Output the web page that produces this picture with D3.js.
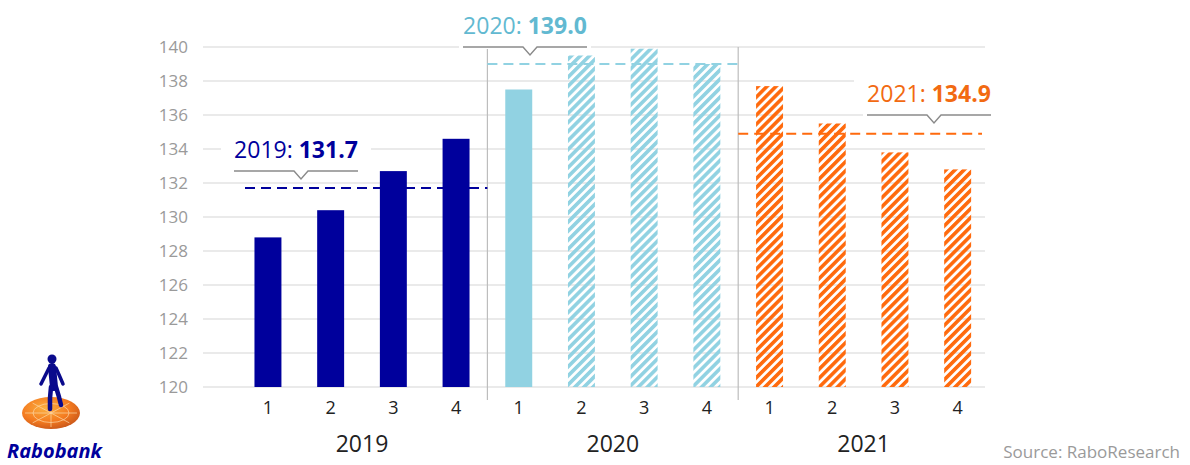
<!DOCTYPE html>
<meta charset="utf-8">
<style>
body { margin: 0; background: #fff; }
text { font-family: "Open Sans", "Noto Sans", sans-serif; }
.grid { stroke: #d6d6d6; stroke-width: 1.2px; }
.sep { stroke: #bdbdbd; stroke-width: 1.2px; }
.callout { fill: none; stroke: #8a8a8a; stroke-width: 1.4px; }
</style>
<body>
<script src="https://d3js.org/d3.v7.min.js"></script>
<script>

// data
var years = ["2019", "2020", "2021"];
var quarters = ["1", "2", "3", "4"];
var values2019 = [128.8, 130.4, 132.7, 134.6];
var values2020 = [137.5, 139.5, 139.9, 139.0];
var values2021 = [137.7, 135.5, 133.8, 132.8];
var forecast2019 = [false, false, false, false];
var forecast2020 = [false, true, true, true];
var forecast2021 = [true, true, true, true];
var averages = [131.7, 139.0, 134.9];
var yTicks = [120, 122, 124, 126, 128, 130, 132, 134, 136, 138, 140];

var barColors = ["#00009c", "#91d2e2", "#ff6a0d"];
var labelColors = ["#00009c", "#62b9d1", "#f26a12"];

var width = 1190, height = 465;

// flatten into bars
var seriesValues = [values2019, values2020, values2021];
var seriesForecast = [forecast2019, forecast2020, forecast2021];
var bars = [];
years.forEach(function(yr, i) {
  quarters.forEach(function(q, j) {
    bars.push({ key: yr + "-" + q, year: yr, yi: i, q: q,
      value: seriesValues[i][j], forecast: seriesForecast[i][j] });
  });
});

var svg = d3.select("body").append("svg")
  .attr("width", width)
  .attr("height", height);

// scales
var x = d3.scaleBand()
  .domain(bars.map(function(d) { return d.key; }))
  .range([236.6, 989])
  .paddingInner(0.57)
  .paddingOuter(0.285);

var y = d3.scaleLinear().domain([120, 140]).range([387, 47]);

var step = x.step();
function groupStart(i) { return x(years[i] + "-1") - (step - x.bandwidth()) / 2; }
function groupEnd(i) { return groupStart(i) + step * 4; }

// hatch patterns
var defs = svg.append("defs");
years.forEach(function(yr, i) {
  var p = defs.append("pattern")
    .attr("id", "hatch" + i)
    .attr("patternUnits", "userSpaceOnUse")
    .attr("width", 6.4).attr("height", 6.4)
    .attr("patternTransform", "rotate(45)");
  p.append("rect").attr("width", 3.6).attr("height", 6.4).attr("fill", barColors[i]);
});

// gridlines
svg.append("g").selectAll("line")
  .data(yTicks)
  .join("line")
  .attr("class", "grid")
  .attr("x1", 203).attr("x2", 985)
  .attr("y1", function(d) { return y(d); })
  .attr("y2", function(d) { return y(d); });

// y axis labels
svg.append("g").selectAll("text")
  .data(yTicks)
  .join("text")
  .attr("x", 188)
  .attr("y", function(d) { return y(d) + 6; })
  .attr("text-anchor", "end")
  .attr("font-size", "17px")
  .attr("fill", "#9a9a9a")
  .text(function(d) { return d; });

// year separators
svg.append("g").selectAll("line")
  .data([1, 2])
  .join("line")
  .attr("class", "sep")
  .attr("x1", function(i) { return groupStart(i); })
  .attr("x2", function(i) { return groupStart(i); })
  .attr("y1", y(140)).attr("y2", 400);

// bars
svg.append("g").selectAll("rect")
  .data(bars)
  .join("rect")
  .attr("x", function(d) { return x(d.key); })
  .attr("width", x.bandwidth())
  .attr("y", function(d) { return y(d.value); })
  .attr("height", function(d) { return y(120) - y(d.value); })
  .attr("fill", function(d) { return d.forecast ? "url(#hatch" + d.yi + ")" : barColors[d.yi]; });

// average dashed lines
svg.append("g").selectAll("line")
  .data(averages)
  .join("line")
  .attr("x1", function(d, i) { return Math.max(groupStart(i), 245); })
  .attr("x2", function(d, i) { return Math.min(groupEnd(i), 982); })
  .attr("y1", function(d) { return y(d); })
  .attr("y2", function(d) { return y(d); })
  .attr("stroke", function(d, i) { return barColors[i]; })
  .attr("stroke-width", 2)
  .attr("stroke-dasharray", "10,6");

// callout labels
var callouts = [
  { cx: 296, lineY: 171 },
  { cx: 525, lineY: 47 },
  { cx: 929, lineY: 115 }
];
callouts.forEach(function(c, i) {
  var g = svg.append("g");
  g.append("rect")
    .attr("x", c.cx - 75).attr("y", c.lineY - 43)
    .attr("width", 150).attr("height", 35)
    .attr("fill", "#fff");
  g.append("rect")
    .attr("x", c.cx - 66).attr("y", c.lineY - 2)
    .attr("width", 132).attr("height", 4)
    .attr("fill", "#fff");
  var t = g.append("text")
    .attr("x", c.cx)
    .attr("y", c.lineY - 13)
    .attr("text-anchor", "middle")
    .attr("font-size", "23px")
    .attr("fill", labelColors[i]);
  t.append("tspan").text(years[i] + ": ");
  t.append("tspan").attr("font-weight", "bold").text(averages[i].toFixed(1));
  var n = c.cx + 5;
  g.append("path")
    .attr("class", "callout")
    .attr("d", "M" + (c.cx - 62) + "," + c.lineY + "H" + (n - 7) +
      "L" + n + "," + (c.lineY + 8) + "L" + (n + 7) + "," + c.lineY + "H" + (c.cx + 62));
});

// x axis: quarters and years
svg.append("g").selectAll("text")
  .data(bars)
  .join("text")
  .attr("x", function(d) { return x(d.key) + x.bandwidth() / 2; })
  .attr("y", 414)
  .attr("text-anchor", "middle")
  .attr("font-size", "18px")
  .attr("fill", "#222")
  .text(function(d) { return d.q; });

svg.append("g").selectAll("text")
  .data(years)
  .join("text")
  .attr("x", function(d, i) { return (groupStart(i) + groupEnd(i)) / 2; })
  .attr("y", 452)
  .attr("text-anchor", "middle")
  .attr("font-size", "23px")
  .attr("fill", "#222")
  .text(function(d) { return d; });

// source
svg.append("text")
  .attr("x", 1180).attr("y", 458)
  .attr("text-anchor", "end")
  .attr("font-size", "17px")
  .attr("fill", "#9a9a9a")
  .text("Source: RaboResearch");

// logo
var grad = defs.append("radialGradient").attr("id", "disc")
  .attr("cx", "40%").attr("cy", "35%").attr("r", "70%");
grad.append("stop").attr("offset", "0%").attr("stop-color", "#fbb040");
grad.append("stop").attr("offset", "60%").attr("stop-color", "#f47b20");
grad.append("stop").attr("offset", "100%").attr("stop-color", "#c8561a");

var logo = svg.append("g");
logo.append("ellipse")
  .attr("cx", 51).attr("cy", 413).attr("rx", 29).attr("ry", 16)
  .attr("fill", "url(#disc)");
d3.range(8).forEach(function(k) {
  var a = k * Math.PI / 4;
  logo.append("line")
    .attr("x1", 51).attr("y1", 413)
    .attr("x2", 51 + Math.cos(a) * 26).attr("y2", 413 + Math.sin(a) * 14)
    .attr("stroke", "#fcd9a8").attr("stroke-width", 0.7);
});
logo.append("ellipse")
  .attr("cx", 51).attr("cy", 413).attr("rx", 18).attr("ry", 9.5)
  .attr("fill", "none").attr("stroke", "#fcd9a8").attr("stroke-width", 0.7);

var fig = logo.append("g")
  .attr("stroke", "#0a0a8c").attr("stroke-linecap", "round")
  .attr("stroke-linejoin", "round").attr("fill", "none");
fig.append("circle").attr("cx", 52).attr("cy", 359).attr("r", 4.5).attr("fill", "#0a0a8c").attr("stroke", "none");
fig.append("path").attr("d", "M52,367 L54,387").attr("stroke-width", 8);
fig.append("path").attr("d", "M49,368 L44,378 L41,384").attr("stroke-width", 3.5);
fig.append("path").attr("d", "M56,368 L60,377 L63,384").attr("stroke-width", 3.5);
fig.append("path").attr("d", "M51,387 L50,398 L50,409").attr("stroke-width", 4.5);
fig.append("path").attr("d", "M56,387 L59,397 L61,405").attr("stroke-width", 4.5);

logo.append("text")
  .attr("x", 7).attr("y", 458)
  .attr("font-family", "Liberation Sans, Arial, sans-serif")
  .attr("font-weight", "bold").attr("font-style", "italic")
  .attr("font-size", "20px")
  .attr("fill", "#00009c")
  .text("Rabobank");

</script>
</body>
